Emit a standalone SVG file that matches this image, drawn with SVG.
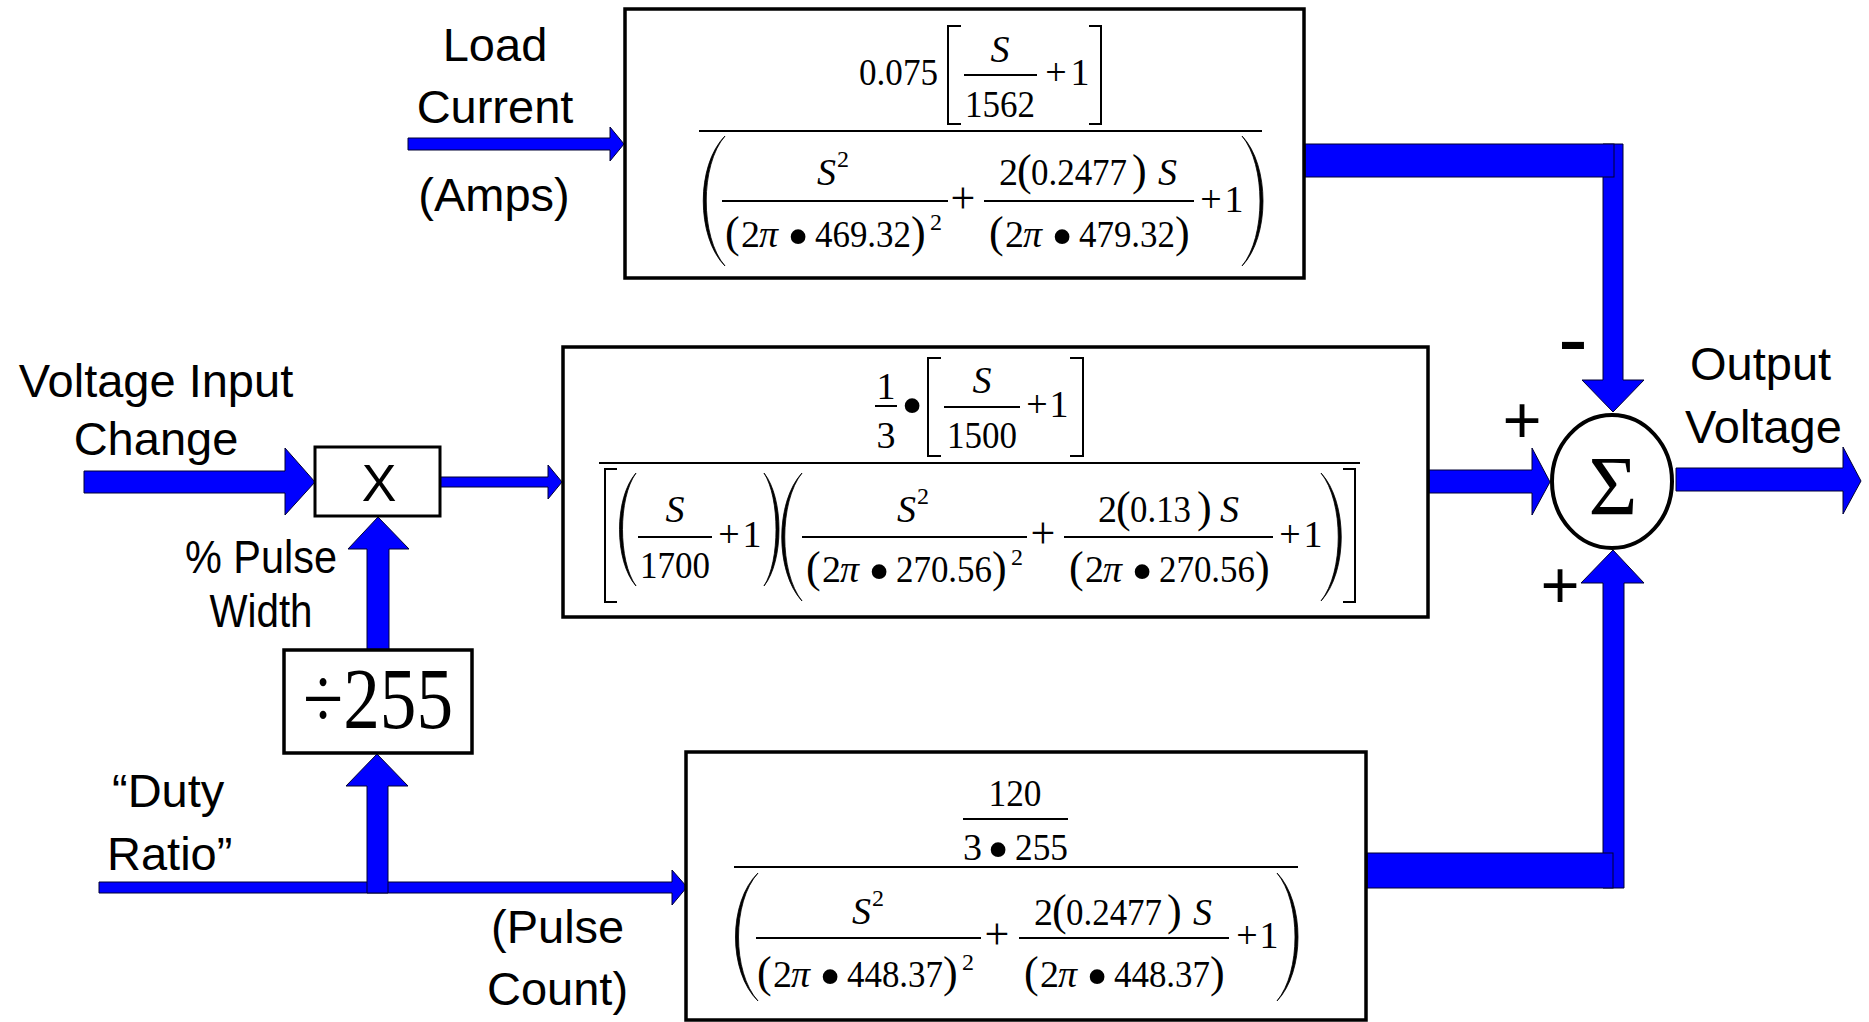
<svg xmlns="http://www.w3.org/2000/svg" xmlns:xlink="http://www.w3.org/1999/xlink" width="1869" height="1022" viewBox="0 0 1869 1022">
  <style>
    .box { fill: #fff; stroke: #000; stroke-width: 3.5; }
    .arrow { fill: #0000ff; stroke: #000033; stroke-width: 1; stroke-linejoin: miter; }
    .lbl { font-family: "Liberation Sans", Arial, sans-serif; font-size: 47px; fill: #000; }
    .m { font-family: "Liberation Serif", "Times New Roman", serif; font-size: 38px; fill: #000; }
    .mi { font-style: italic; }
    .sup { font-size: 24px; }
    .bp { font-size: 44px; }
    .op { font-size: 44px; }
    .dot { font-size: 62px; }
    .bar { stroke: #000; stroke-width: 2; fill: none; }
    .brk { stroke: #000; stroke-width: 2; fill: none; }
    .par { fill: #000; stroke: #000; stroke-width: 0.8; }
  </style>
  <defs>
    <!-- "(2π•" prefix shared by every resonant-pole denominator -->
    <g id="p2pi">
      <text class="m bp" x="0" y="0">(</text>
      <text class="m" x="16" y="0">2</text>
      <text class="m mi" x="34" y="0">π</text>
      <text class="m dot" x="73" y="10" text-anchor="middle">•</text>
    </g>
    <g id="pcl"><text class="m bp" x="0" y="0">)</text></g>
    <g id="pcsq">
      <text class="m bp" x="0" y="0">)</text>
      <text class="m sup" x="19" y="-17">2</text>
    </g>
  </defs>

  <!-- connectors (signal paths) -->
  <g id="connectors">
    <path class="arrow" d="M408,138 H610 V127 L624,144 L610,161 V150 H408 Z"/>
    <path class="arrow" d="M84,471 H285 V448 L315,482 L285,515 V493 H84 Z"/>
    <path class="arrow" d="M440,477 H548 V465 L562,482 L548,499 V487 H440 Z"/>
    <path class="arrow" d="M367,650 V549 H348 L378,517 L409,549 H389 V650 Z"/>
    <path class="arrow" d="M99,882 H672 V870 L687,887 L672,905 V893 H99 Z"/>
    <path class="arrow" d="M367,893 V786 H346 L377,754 L408,786 H388 V893 Z"/>
    <path class="arrow" d="M1603,144 H1623 V380 H1644 L1613,412 L1582,380 H1603 Z"/>
    <rect class="arrow" x="1305" y="144" width="309" height="33"/>
    <path class="arrow" d="M1429,470 H1532 V448 L1550,482 L1532,515 V493 H1429 Z"/>
    <path class="arrow" d="M1603,888 V583 H1581 L1613,550 L1644,583 H1624 V888 Z"/>
    <rect class="arrow" x="1367" y="853" width="246" height="35"/>
    <path class="arrow" d="M1676,468 H1843 V447 L1861,481 L1843,514 V491 H1676 Z"/>
  </g>

  <!-- input / output labels -->
  <g id="label-load-current">
    <text class="lbl" x="495" y="61" text-anchor="middle">Load</text>
    <text class="lbl" x="495" y="123" text-anchor="middle">Current</text>
    <text class="lbl" x="494" y="211" text-anchor="middle">(Amps)</text>
  </g>
  <g id="label-voltage-input">
    <text class="lbl" x="156" y="397" text-anchor="middle">Voltage Input</text>
    <text class="lbl" x="156" y="455" text-anchor="middle">Change</text>
  </g>
  <g id="label-pulse-width">
    <text class="lbl" x="261" y="573" text-anchor="middle" textLength="152" lengthAdjust="spacingAndGlyphs">% Pulse</text>
    <text class="lbl" x="261" y="627" text-anchor="middle" textLength="103" lengthAdjust="spacingAndGlyphs">Width</text>
  </g>
  <g id="label-duty-ratio">
    <text class="lbl" x="112" y="807">“Duty</text>
    <text class="lbl" x="107" y="870">Ratio”</text>
  </g>
  <g id="label-pulse-count">
    <text class="lbl" x="491" y="943">(Pulse</text>
    <text class="lbl" x="487" y="1005">Count)</text>
  </g>
  <g id="label-output">
    <text class="lbl" x="1690" y="380">Output</text>
    <text class="lbl" x="1685" y="443">Voltage</text>
  </g>
  <g id="summer-signs">
    <text class="lbl" x="1558" y="370" style="font-size:90px">-</text>
    <text class="lbl" x="1522" y="443" text-anchor="middle" style="font-size:67px">+</text>
    <text class="lbl" x="1560" y="608" text-anchor="middle" style="font-size:67px">+</text>
  </g>

  <!-- multiplier -->
  <g id="multiplier">
    <rect class="box" x="315" y="447" width="125" height="69" style="stroke-width:3"/>
    <text class="lbl" x="379" y="501" text-anchor="middle" style="font-size:52px">X</text>
  </g>

  <!-- divide-by-255 scaling -->
  <g id="divider">
    <rect class="box" x="284" y="650" width="188" height="103"/>
    <text class="m" x="378" y="728" text-anchor="middle" style="font-size:86px" textLength="150" lengthAdjust="spacingAndGlyphs">÷255</text>
  </g>

  <!-- summing junction -->
  <g id="summer">
    <ellipse cx="1612" cy="481.5" rx="60" ry="66.5" fill="#fff" stroke="#000" stroke-width="4"/>
    <text class="m" x="1613" y="515" text-anchor="middle" style="font-size:84px">Σ</text>
  </g>

  <!-- load current transfer function -->
  <g id="load-block">
    <rect class="box" x="625" y="9" width="679" height="269"/>
    <text class="m" x="859" y="85" textLength="79" lengthAdjust="spacingAndGlyphs">0.075</text>
    <path class="brk" d="M961,26 H948 V124 H961"/>
    <text class="m mi" x="1000" y="62" text-anchor="middle">S</text>
    <line class="bar" x1="964" y1="75" x2="1037" y2="75"/>
    <text class="m" x="1000" y="117" text-anchor="middle" textLength="70" lengthAdjust="spacingAndGlyphs">1562</text>
    <text class="m" x="1056" y="85" text-anchor="middle">+</text>
    <text class="m" x="1080" y="85" text-anchor="middle">1</text>
    <path class="brk" d="M1089,26 H1101 V124 H1089"/>
    <line class="bar" x1="699" y1="131" x2="1262" y2="131"/>
    <path class="par" d="M725,136 C696,165 696,237 725,266 C700,237 700,165 725,136 Z"/>
    <text class="m mi" x="817" y="185">S</text>
    <text class="m sup" x="837" y="167">2</text>
    <line class="bar" x1="722" y1="201" x2="948" y2="201"/>
    <use xlink:href="#p2pi" x="725" y="247"/>
    <text class="m" x="815" y="247" textLength="96" lengthAdjust="spacingAndGlyphs">469.32</text>
    <use xlink:href="#pcsq" x="911" y="247"/>
    <text class="m op" x="963" y="213" text-anchor="middle">+</text>
    <text class="m" x="999" y="185">2</text>
    <text class="m bp" x="1017" y="185">(</text>
    <text class="m" x="1031" y="185" textLength="96" lengthAdjust="spacingAndGlyphs">0.2477</text>
    <text class="m bp" x="1132" y="185">)</text>
    <text class="m mi" x="1158" y="185">S</text>
    <line class="bar" x1="984" y1="201" x2="1194" y2="201"/>
    <use xlink:href="#p2pi" x="989" y="247"/>
    <text class="m" x="1079" y="247" textLength="96" lengthAdjust="spacingAndGlyphs">479.32</text>
    <use xlink:href="#pcl" x="1175" y="247"/>
    <text class="m" x="1211" y="212" text-anchor="middle">+</text>
    <text class="m" x="1234" y="212" text-anchor="middle">1</text>
    <path class="par" d="M1242,136 C1270,165 1270,237 1242,266 C1266,237 1266,165 1242,136 Z"/>
  </g>

  <!-- input voltage transfer function -->
  <g id="voltage-block">
    <rect class="box" x="563" y="347" width="865" height="270"/>
    <text class="m" x="886" y="399" text-anchor="middle">1</text>
    <line class="bar" x1="875" y1="406" x2="897" y2="406"/>
    <text class="m" x="886" y="448" text-anchor="middle">3</text>
    <text class="m dot" x="912" y="426" text-anchor="middle">•</text>
    <path class="brk" d="M941,358 H928 V456 H941"/>
    <text class="m mi" x="982" y="393" text-anchor="middle">S</text>
    <line class="bar" x1="944" y1="407" x2="1020" y2="407"/>
    <text class="m" x="982" y="448" text-anchor="middle" textLength="70" lengthAdjust="spacingAndGlyphs">1500</text>
    <text class="m" x="1037" y="417" text-anchor="middle">+</text>
    <text class="m" x="1059" y="417" text-anchor="middle">1</text>
    <path class="brk" d="M1070,358 H1083 V456 H1070"/>
    <line class="bar" x1="599" y1="463" x2="1360" y2="463"/>
    <path class="brk" d="M617,469 H605 V602 H617"/>
    <path class="par" d="M636,473 C614,498 614,561 636,586 C618,561 618,498 636,473 Z"/>
    <text class="m mi" x="675" y="522" text-anchor="middle">S</text>
    <line class="bar" x1="638" y1="537" x2="712" y2="537"/>
    <text class="m" x="675" y="578" text-anchor="middle" textLength="70" lengthAdjust="spacingAndGlyphs">1700</text>
    <text class="m" x="729" y="547" text-anchor="middle">+</text>
    <text class="m" x="752" y="547" text-anchor="middle">1</text>
    <path class="par" d="M764,473 C784,498 784,561 764,586 C780,561 780,498 764,473 Z"/>
    <path class="par" d="M802,473 C775,502 775,572 802,601 C779,572 779,502 802,473 Z"/>
    <text class="m mi" x="897" y="522">S</text>
    <text class="m sup" x="917" y="504">2</text>
    <line class="bar" x1="802" y1="537" x2="1027" y2="537"/>
    <use xlink:href="#p2pi" x="806" y="582"/>
    <text class="m" x="896" y="582" textLength="96" lengthAdjust="spacingAndGlyphs">270.56</text>
    <use xlink:href="#pcsq" x="992" y="582"/>
    <text class="m op" x="1043" y="548" text-anchor="middle">+</text>
    <text class="m" x="1098" y="522">2</text>
    <text class="m bp" x="1116" y="522">(</text>
    <text class="m" x="1130" y="522" textLength="61" lengthAdjust="spacingAndGlyphs">0.13</text>
    <text class="m bp" x="1197" y="522">)</text>
    <text class="m mi" x="1220" y="522">S</text>
    <line class="bar" x1="1064" y1="537" x2="1273" y2="537"/>
    <use xlink:href="#p2pi" x="1069" y="582"/>
    <text class="m" x="1159" y="582" textLength="96" lengthAdjust="spacingAndGlyphs">270.56</text>
    <use xlink:href="#pcl" x="1255" y="582"/>
    <text class="m" x="1290" y="547" text-anchor="middle">+</text>
    <text class="m" x="1313" y="547" text-anchor="middle">1</text>
    <path class="par" d="M1321,473 C1348,502 1348,572 1321,601 C1344,572 1344,502 1321,473 Z"/>
    <path class="brk" d="M1343,469 H1355 V602 H1343"/>
  </g>

  <!-- pulse count transfer function -->
  <g id="pulse-block">
    <rect class="box" x="686" y="752" width="680" height="268"/>
    <text class="m" x="1015" y="806" text-anchor="middle" textLength="53" lengthAdjust="spacingAndGlyphs">120</text>
    <line class="bar" x1="963" y1="819" x2="1068" y2="819"/>
    <text class="m" x="963" y="860">3</text>
    <text class="m dot" x="998" y="870" text-anchor="middle">•</text>
    <text class="m" x="1015" y="860" textLength="53" lengthAdjust="spacingAndGlyphs">255</text>
    <line class="bar" x1="734" y1="867" x2="1298" y2="867"/>
    <path class="par" d="M758,873 C728,902 728,972 758,1001 C732,972 732,902 758,873 Z"/>
    <text class="m mi" x="852" y="924">S</text>
    <text class="m sup" x="872" y="906">2</text>
    <line class="bar" x1="756" y1="938" x2="981" y2="938"/>
    <use xlink:href="#p2pi" x="757" y="987"/>
    <text class="m" x="847" y="987" textLength="96" lengthAdjust="spacingAndGlyphs">448.37</text>
    <use xlink:href="#pcsq" x="943" y="987"/>
    <text class="m op" x="997" y="949" text-anchor="middle">+</text>
    <text class="m" x="1034" y="925">2</text>
    <text class="m bp" x="1052" y="925">(</text>
    <text class="m" x="1066" y="925" textLength="96" lengthAdjust="spacingAndGlyphs">0.2477</text>
    <text class="m bp" x="1167" y="925">)</text>
    <text class="m mi" x="1193" y="925">S</text>
    <line class="bar" x1="1019" y1="938" x2="1229" y2="938"/>
    <use xlink:href="#p2pi" x="1024" y="987"/>
    <text class="m" x="1114" y="987" textLength="96" lengthAdjust="spacingAndGlyphs">448.37</text>
    <use xlink:href="#pcl" x="1210" y="987"/>
    <text class="m" x="1247" y="948" text-anchor="middle">+</text>
    <text class="m" x="1269" y="948" text-anchor="middle">1</text>
    <path class="par" d="M1277,873 C1305,902 1305,972 1277,1001 C1301,972 1301,902 1277,873 Z"/>
  </g>
</svg>
